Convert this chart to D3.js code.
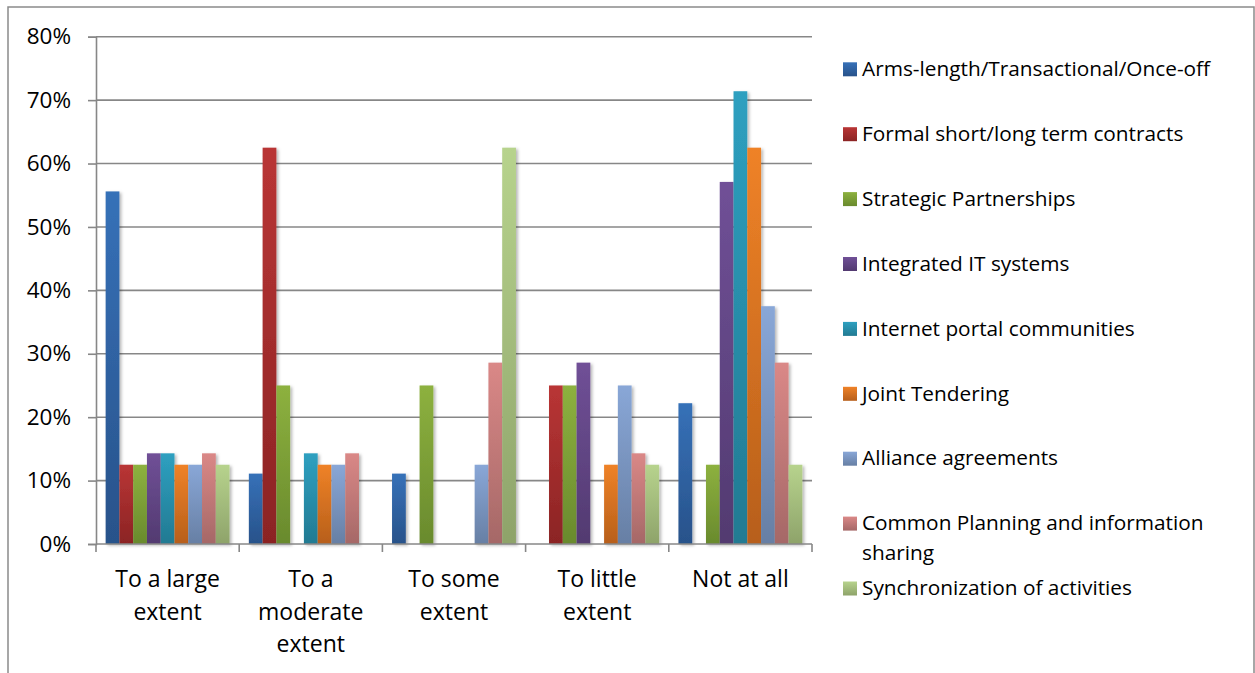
<!DOCTYPE html>
<html>
<head>
<meta charset="utf-8">
<script src="https://cdn.jsdelivr.net/npm/d3@7"></script>
<style>
  body { margin: 0; background: #fff; }
  svg { display: block; }
  text { font-family: "Open Sans", Lato, sans-serif; fill: #000; }
</style>
</head>
<body>
<svg id="chart" width="1255" height="673"></svg>
<script>
// Categories on the x axis
const categories = ["To a large extent", "To a moderate extent", "To some extent", "To little extent", "Not at all"];

// Series names (legend order)
const seriesNames = [
  "Arms-length/Transactional/Once-off",
  "Formal short/long term contracts",
  "Strategic Partnerships",
  "Integrated IT systems",
  "Internet portal communities",
  "Joint Tendering",
  "Alliance agreements",
  "Common Planning and information sharing",
  "Synchronization of activities"
];

// Percent values per series, one per category
const armsLength      = [55.6, 11.1, 11.1, 0,    22.2];
const formalContracts = [12.5, 62.5, 0,    25,   0];
const strategicPart   = [12.5, 25,   25,   25,   12.5];
const integratedIT    = [14.3, 0,    0,    28.6, 57.1];
const internetPortal  = [14.3, 14.3, 0,    0,    71.4];
const jointTendering  = [12.5, 12.5, 0,    12.5, 62.5];
const allianceAgree   = [12.5, 12.5, 12.5, 25,   37.5];
const commonPlanning  = [14.3, 14.3, 28.6, 14.3, 28.6];
const synchronization = [12.5, 0,    62.5, 12.5, 12.5];

const seriesValues = [armsLength, formalContracts, strategicPart, integratedIT,
  internetPortal, jointTendering, allianceAgree, commonPlanning, synchronization];

// Y-axis tick values (percent)
const yTicks = [0, 10, 20, 30, 40, 50, 60, 70, 80];

// Bar fills: lighter at the top, darker at the base
const colorTop    = ["#3671b8", "#b93535", "#8db13f", "#705097", "#2ea0c0", "#ef8227", "#89a7d7", "#da8887", "#b7d38d"];
const colorBottom = ["#28528a", "#8b2424", "#698a2d", "#523a70", "#227a92", "#b75f1b", "#677fa4", "#a56867", "#8ea36a"];

const svg = d3.select("#chart");
const defs = svg.append("defs");

seriesNames.forEach((s, i) => {
  const g = defs.append("linearGradient")
    .attr("id", "grad" + i).attr("x1", 0).attr("y1", 0).attr("x2", 0).attr("y2", 1);
  g.append("stop").attr("offset", "0%").attr("stop-color", colorTop[i]);
  g.append("stop").attr("offset", "100%").attr("stop-color", colorBottom[i]);
});

const shadow = defs.append("filter").attr("id", "barShadow")
  .attr("x", "-20%").attr("y", "-5%").attr("width", "160%").attr("height", "115%");
shadow.append("feDropShadow").attr("dx", 2).attr("dy", 1.5)
  .attr("stdDeviation", 1.6).attr("flood-color", "#000").attr("flood-opacity", 0.28);

// Outer chart frame
svg.append("rect")
  .attr("x", 8).attr("y", 7).attr("width", 1246).attr("height", 700)
  .attr("fill", "none").attr("stroke", "#8a8a8a").attr("stroke-width", 1.5);

const plotLeft = 96, plotRight = 812, plotTop = 36.7, plotBottom = 544;

const x0 = d3.scaleBand().domain(categories).range([plotLeft, plotRight]).paddingInner(0).paddingOuter(0);
const x1 = d3.scaleBand().domain(d3.range(seriesNames.length)).range([0, x0.bandwidth()]).paddingInner(0).paddingOuter(0.7);
const y = d3.scaleLinear().domain([0, 80]).range([plotBottom, plotTop]);

// Horizontal gridlines
svg.append("g").selectAll("line").data(yTicks.filter(t => t > 0)).join("line")
  .attr("x1", plotLeft).attr("x2", plotRight)
  .attr("y1", d => y(d)).attr("y2", d => y(d))
  .attr("stroke", "#878787").attr("stroke-width", 1.6);

// Y axis
const yAxis = svg.append("g").attr("transform", `translate(${plotLeft},0)`)
  .call(d3.axisLeft(y).tickValues(yTicks).tickFormat(d => d + "%").tickSize(8).tickPadding(17));
yAxis.select(".domain").attr("stroke", "#878787").attr("stroke-width", 1.6);
yAxis.selectAll(".tick line").attr("stroke", "#878787").attr("stroke-width", 1.6);
yAxis.selectAll(".tick text").attr("font-size", 22.5).attr("font-family", "'Open Sans', sans-serif").attr("fill", "#000");

// Bars
const groups = svg.append("g").selectAll("g").data(categories).join("g")
  .attr("transform", d => `translate(${x0(d)},0)`);

groups.selectAll("rect")
  .data((c, ci) => seriesValues.map((vals, si) => ({ si, v: vals[ci] })).filter(d => d.v > 0))
  .join("rect")
  .attr("x", d => x1(d.si))
  .attr("width", x1.bandwidth())
  .attr("y", d => y(d.v))
  .attr("height", d => y(0) - y(d.v))
  .attr("fill", d => `url(#grad${d.si})`)
  .attr("filter", "url(#barShadow)");

// X axis line and category boundary ticks
const xAxisG = svg.append("g");
xAxisG.append("line")
  .attr("x1", plotLeft).attr("x2", plotRight).attr("y1", plotBottom).attr("y2", plotBottom)
  .attr("stroke", "#878787").attr("stroke-width", 1.6);
const bounds = categories.map(c => x0(c)).concat([plotRight]);
xAxisG.selectAll("line.tk").data(bounds).join("line").attr("class", "tk")
  .attr("x1", d => d).attr("x2", d => d).attr("y1", plotBottom).attr("y2", plotBottom + 8)
  .attr("stroke", "#878787").attr("stroke-width", 1.6);

// Wrap text into lines no wider than maxW
function wrapLines(textSel, str, maxW) {
  const words = str.split(" ");
  const lines = [];
  let cur = "";
  words.forEach(w => {
    const test = cur ? cur + " " + w : w;
    textSel.text(test);
    if (cur && textSel.node().getComputedTextLength() > maxW) {
      lines.push(cur);
      cur = w;
    } else {
      cur = test;
    }
  });
  if (cur) lines.push(cur);
  textSel.text(null);
  return lines;
}

// Category labels
categories.forEach(c => {
  const t = xAxisG.append("text")
    .attr("text-anchor", "middle").attr("font-size", 23);
  const lines = wrapLines(t, c, 128);
  const cx = x0(c) + x0.bandwidth() / 2;
  lines.forEach((ln, i) => {
    t.append("tspan").attr("x", cx).attr("y", 587 + i * 32.5).text(ln);
  });
});

// Legend
const legend = svg.append("g");
seriesNames.forEach((name, i) => {
  const cy = 69 + i * 64.9;
  legend.append("rect")
    .attr("x", 843).attr("y", cy - 6.7).attr("width", 14).attr("height", 14)
    .attr("fill", `url(#grad${i})`);
  const t = legend.append("text").attr("font-size", 20.8);
  const lines = wrapLines(t, name, 370);
  lines.forEach((ln, j) => {
    t.append("tspan").attr("x", 862).attr("y", cy + 7 + j * 30).text(ln);
  });
});
</script>
</body>
</html>
